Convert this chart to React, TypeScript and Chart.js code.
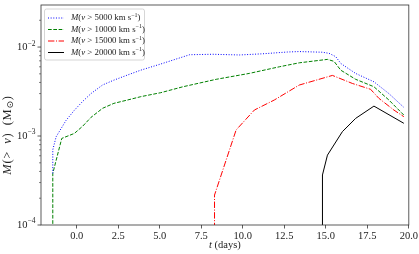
import React, { useEffect, useRef } from "react";
import { Chart, registerables } from "chart.js";

Chart.register(...registerables);

// Time (days) and cumulative mass M(>v) in solar masses, per velocity cut
const tV5000 = [-1.44, -1.44, -1.24, -0.64, -0.14, 0.36, 0.86, 1.56, 2.24, 3.06, 3.86, 5.06, 6.8, 8.2, 9.8, 11.2, 12.7, 13.4, 14.8, 15.2, 15.6, 15.9, 16.8, 17.9, 18.8, 19.7];
const mV5000 = [3.8e-4, 7.0e-4, 9.8e-4, 1.5e-3, 1.95e-3, 2.45e-3, 3.0e-3, 3.75e-3, 4.25e-3, 4.85e-3, 5.5e-3, 6.45e-3, 8.2e-3, 8.3e-3, 8.15e-3, 8.4e-3, 8.8e-3, 8.9e-3, 8.75e-3, 8.5e-3, 7.8e-3, 6.55e-3, 5.05e-3, 4.07e-3, 3.0e-3, 2.1e-3];

const tV10000 = [-1.44, -1.44, -0.9, -0.14, 0.36, 0.86, 1.56, 2.24, 3.06, 3.86, 5.06, 6.4, 8.4, 10.4, 12.2, 13.4, 15.1, 15.5, 15.9, 16.8, 17.9, 18.8, 19.7];
const mV10000 = [1e-5, 3.8e-4, 9.4e-4, 1.07e-3, 1.29e-3, 1.62e-3, 2.05e-3, 2.33e-3, 2.54e-3, 2.77e-3, 3.07e-3, 3.58e-3, 4.34e-3, 5.06e-3, 6.0e-3, 6.65e-3, 7.27e-3, 6.9e-3, 5.5e-3, 4.34e-3, 3.58e-3, 2.54e-3, 1.72e-3];

const tV15000 = [8.3, 8.3, 9.6, 10.7, 11.9, 13.4, 15.4, 16.6, 17.7, 18.2, 19.1, 19.7];
const mV15000 = [1e-5, 2.17e-4, 1.17e-3, 1.96e-3, 2.54e-3, 3.74e-3, 4.8e-3, 3.9e-3, 3.35e-3, 2.65e-3, 1.96e-3, 1.65e-3];

const tV20000 = [14.8, 14.8, 15.1, 16.0, 16.8, 17.9, 19.7];
const mV20000 = [1e-5, 3.65e-4, 6.1e-4, 1.12e-3, 1.58e-3, 2.17e-3, 1.39e-3];

const velocityCuts = ["5000", "10000", "15000", "20000"];
const yMajorTicks = [1e-4, 1e-3, 1e-2];
const yTickExponents = ["−4", "−3", "−2"];
const xLabel = ["t", " (days)"];

const SERIF = '"Liberation Serif", "DejaVu Serif", serif';
const colors = ["#0000ff", "#008000", "#ff0000", "#000000"];
const dashes = [[1, 1.65], [3.7, 1.6], [6.4, 1.6, 1, 1.6], []];

type Run = { t: string; font: string; dy?: number };

function runsWidth(ctx: CanvasRenderingContext2D, runs: Run[]) {
  let w = 0;
  for (const r of runs) {
    ctx.font = r.font;
    w += ctx.measureText(r.t).width;
  }
  return w;
}
function drawRuns(ctx: CanvasRenderingContext2D, runs: Run[], x: number, y: number) {
  let cx = x;
  ctx.textAlign = "left";
  ctx.textBaseline = "middle";
  for (const r of runs) {
    ctx.font = r.font;
    ctx.fillText(r.t, cx, y + (r.dy || 0));
    cx += ctx.measureText(r.t).width;
  }
}

const decorPlugin = {
  id: "decor",
  afterDraw(chart: any) {
    const ctx: CanvasRenderingContext2D = chart.ctx;
    const a = chart.chartArea;
    const ys = chart.scales.y;
    ctx.save();
    // frame
    ctx.strokeStyle = "#333";
    ctx.lineWidth = 0.8;
    ctx.strokeRect(a.left, a.top, a.right - a.left, a.bottom - a.top);
    // y ticks (major + minor)
    for (let e = -4; e <= -2; e++) {
      for (let k = 1; k <= 9; k++) {
        const v = k * Math.pow(10, e);
        if (v > ys.max * 1.0001) continue;
        const py = ys.getPixelForValue(v);
        const len = k === 1 ? 3.5 : 2;
        ctx.lineWidth = k === 1 ? 0.8 : 0.6;
        ctx.beginPath();
        ctx.moveTo(a.left, py);
        ctx.lineTo(a.left - len, py);
        ctx.stroke();
      }
    }
    // y tick labels
    ctx.fillStyle = "#222";
    yMajorTicks.forEach((v, i) => {
      const py = ys.getPixelForValue(v);
      const runs: Run[] = [
        { t: "10", font: `10.5px ${SERIF}` },
        { t: yTickExponents[i], font: `7.5px ${SERIF}`, dy: -4 },
      ];
      const w = runsWidth(ctx, runs);
      drawRuns(ctx, runs, 35.5 - w, py + 0.5);
    });
    // x label
    const xr: Run[] = [
      { t: xLabel[0], font: `italic 10.5px ${SERIF}` },
      { t: xLabel[1], font: `10.5px ${SERIF}` },
    ];
    const xw = runsWidth(ctx, xr);
    drawRuns(ctx, xr, (a.left + a.right) / 2 - xw / 2, 245);
    // y label
    const yf = 12.5;
    const yr: Run[] = [
      { t: "M", font: `italic ${yf}px ${SERIF}` },
      { t: "(>\u2002", font: `${yf}px ${SERIF}` },
      { t: "v", font: `italic ${yf}px ${SERIF}` },
      { t: ")\u2002(M", font: `${yf}px ${SERIF}` },
      { t: "⊙", font: `9px "DejaVu Sans", sans-serif`, dy: 2.5 },
      { t: ")", font: `${yf}px ${SERIF}` },
    ];
    ctx.save();
    (ctx as any).letterSpacing = "0.8px";
    const yw = runsWidth(ctx, yr);
    ctx.translate(8, 135);
    ctx.rotate(-Math.PI / 2);
    drawRuns(ctx, yr, -yw / 2, 0);
    ctx.restore();
    // legend
    const bx = 44.5, by = 9, bw = 100, bh = 51;
    ctx.beginPath();
    ctx.roundRect(bx, by, bw, bh, 2);
    ctx.fillStyle = "rgba(255,255,255,0.85)";
    ctx.fill();
    ctx.strokeStyle = "#cccccc";
    ctx.lineWidth = 0.8;
    ctx.stroke();
    velocityCuts.forEach((vc, i) => {
      const ry = 18 + i * 11.5;
      ctx.strokeStyle = colors[i];
      ctx.lineWidth = 1;
      ctx.setLineDash(dashes[i]);
      ctx.beginPath();
      ctx.moveTo(48, ry);
      ctx.lineTo(64, ry);
      ctx.stroke();
      ctx.setLineDash([]);
      ctx.fillStyle = "#222";
      const f = 8.8;
      drawRuns(ctx, [
        { t: "M", font: `italic ${f}px ${SERIF}` },
        { t: "(", font: `${f}px ${SERIF}` },
        { t: "v", font: `italic ${f}px ${SERIF}` },
        { t: " > " + vc + " km s", font: `${f}px ${SERIF}` },
        { t: "−1", font: `6px ${SERIF}`, dy: -3 },
        { t: ")", font: `${f}px ${SERIF}` },
      ], 71, ry);
    });
    ctx.restore();
  },
};

export default function App() {
  const ref = useRef<HTMLCanvasElement>(null);
  useEffect(() => {
    document.body.style.margin = "0";
    const series = [
      [tV5000, mV5000],
      [tV10000, mV10000],
      [tV15000, mV15000],
      [tV20000, mV20000],
    ];
    const chart = new Chart(ref.current!, {
      type: "line",
      data: {
        datasets: series.map(([ts, ms], i) => ({
          label: `M(v > ${velocityCuts[i]} km s^-1)`,
          data: ts.map((t, j) => ({ x: t, y: ms[j] })),
          borderColor: colors[i],
          borderWidth: 1,
          borderDash: dashes[i],
          pointRadius: 0,
          tension: 0,
          fill: false,
        })),
      },
      options: {
        animation: false,
        responsive: false,
        devicePixelRatio: 1,
        layout: { padding: { top: 5, right: 10, left: 0, bottom: 0 } },
        plugins: { legend: { display: false }, tooltip: { enabled: false } },
        scales: {
          x: {
            type: "linear",
            min: -2.15,
            max: 20,
            afterFit: (s: any) => { s.height = 29; },
            ticks: {
              stepSize: 2.5,
              includeBounds: false,
              callback: (v: any) => Number(v).toFixed(1),
              font: { family: SERIF, size: 10.5 },
              color: "#222",
              padding: 1,
              maxRotation: 0,
              autoSkip: false,
            },
            grid: { drawOnChartArea: false, tickLength: 3.5, tickColor: "#333", tickWidth: 0.8 },
            border: { display: false },
          },
          y: {
            type: "logarithmic",
            min: 1e-4,
            max: 0.0297,
            afterFit: (s: any) => { s.width = 41; },
            ticks: { display: false },
            grid: { display: false },
            border: { display: false },
          },
        },
      },
      plugins: [decorPlugin],
    } as any);
    return () => chart.destroy();
  }, []);
  return <canvas ref={ref} width={419} height={254} style={{ display: "block", width: 419, height: 254 }} />;
}
